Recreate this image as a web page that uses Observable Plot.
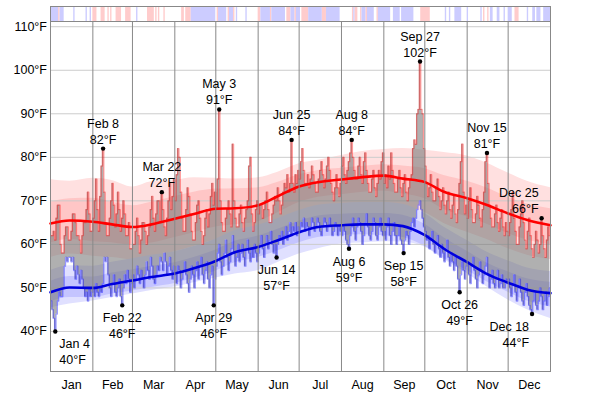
<!DOCTYPE html>
<html><head><meta charset="utf-8">
<script src="https://cdn.jsdelivr.net/npm/d3@7"></script>
<script src="https://cdn.jsdelivr.net/npm/@observablehq/plot@0.6"></script>
<style>
body{margin:0;background:#fff;font-family:"Liberation Sans",Arial,sans-serif;}
#chart svg{display:block}
</style></head><body><div id="chart"></div>
<script>
const months = ["Jan","Feb","Mar","Apr","May","Jun","Jul","Aug","Sep","Oct","Nov","Dec"];
const yTicks = [40,50,60,70,80,90,100,110];

// daily highs (°F), one array per month of 2012
const highJan = [62,62,63,61,66,69,69,60,58,58,62,64,64,61,61,63,67,67,65,62,62,61,58,62,65,65,68,72,67,63,63];
const highFeb = [66,70,75,68,63,71,78,82,72,65,62,62,66,70,74,69,64,67,72,68,63,66,70,67,62,62,65,59,59];
const highMar = [60,60,63,66,62,58,61,65,65,63,60,62,64,68,71,66,63,67,70,70,65,72,68,64,62,66,70,74,68,71,75];
const highApr = [70,76,82,80,72,66,63,63,68,73,71,67,63,61,61,65,69,70,66,63,60,62,66,68,64,67,71,74,69,72];
const highMay = [68,75,91,70,65,63,63,66,68,70,67,64,83,70,66,64,64,67,69,65,63,66,68,70,78,80,67,63,65,68,70];
const highJun = [67,69,69,66,68,70,72,68,65,65,67,69,71,70,73,70,67,69,72,74,73,76,72,74,84,74,72,76,74,77];
const highJul = [75,79,82,77,74,74,76,73,75,78,76,74,72,72,75,77,79,76,73,75,78,80,77,74,72,70,73,76,73,71,74];
const highAug = [78,80,76,74,77,79,81,84,80,77,75,75,78,80,76,74,79,81,77,74,72,72,75,77,73,71,74,77,75,79,81];
const highSep = [74,76,73,78,75,81,77,74,72,72,75,77,73,71,74,76,72,70,73,75,76,82,84,83,90,91,102,91,90,82];
const highOct = [78,74,71,73,76,72,70,70,73,75,71,68,70,73,69,67,70,72,68,66,69,71,67,65,68,74,79,83,72,67,69];
const highNov = [66,70,73,68,65,65,67,71,69,66,64,68,72,79,81,74,69,66,64,64,67,69,65,63,66,68,64,62,65,63];
const highDec = [62,65,68,72,66,63,60,60,64,67,70,65,61,59,63,66,62,59,57,60,63,61,58,60,66,62,59,57,61,64,62];

// daily lows (°F)
const lowJan = [47,45,43,40,44,47,49,48,48,50,55,57,56,57,57,56,57,54,52,55,53,51,54,52,50,48,49,47,50,48,49];
const lowFeb = [50,48,51,49,48,50,49,51,57,56,57,53,50,48,51,53,49,48,50,52,48,46,50,53,51,54,52,49,51];
const lowMar = [53,50,52,55,53,51,54,52,50,53,56,54,52,57,55,52,51,53,55,54,57,56,54,58,56,53,55,57,54,52,55];
const lowApr = [53,51,55,54,50,52,54,56,53,51,49,52,55,53,50,54,56,52,55,57,53,51,54,56,52,50,53,55,46,52];
const lowMay = [55,58,60,56,53,55,58,61,57,54,56,59,62,58,55,57,60,56,58,60,57,55,59,61,58,56,59,57,60,58,56];
const lowJun = [58,60,62,59,57,60,62,59,61,63,60,58,60,57,60,62,61,63,60,62,64,61,63,65,62,64,63,65,62,64];
const lowJul = [63,65,64,66,63,65,64,62,64,66,65,63,64,66,65,63,62,64,66,65,63,64,66,64,62,63,65,64,62,64,63];
const lowAug = [62,64,63,61,60,59,62,64,66,63,61,64,66,65,63,60,62,65,67,64,62,61,63,66,65,62,61,64,66,63,62];
const lowSep = [63,61,64,66,62,60,63,65,62,60,62,64,61,60,58,61,63,62,60,63,65,66,64,66,68,69,70,68,66,64];
const lowOct = [63,61,62,59,61,63,60,58,60,62,59,57,60,58,56,59,61,57,55,58,56,54,57,55,52,49,53,56,54,52,55];
const lowNov = [56,53,51,55,57,54,52,50,53,56,54,51,53,55,57,53,50,52,54,51,50,52,54,50,51,53,50,50,52,51];
const lowDec = [52,50,48,51,53,49,47,50,52,49,47,46,49,51,48,46,45,44,47,49,46,45,47,50,48,45,47,49,46,48,50];

// smooth averages and percentile bands, sampled at knot dates
const knotDates = ["2012-01-01","2012-01-15","2012-02-01","2012-02-15","2012-03-01","2012-03-15","2012-04-01","2012-04-15","2012-05-01","2012-05-15","2012-06-01","2012-06-15","2012-07-01","2012-07-15","2012-08-01","2012-08-15","2012-09-01","2012-09-15","2012-10-01","2012-10-15","2012-11-01","2012-11-15","2012-12-01","2012-12-15","2013-01-01"];
const avgHigh = [64.8,65.5,65.2,64.6,64.0,64.6,65.9,67.0,68.2,68.3,69.0,71.0,73.3,74.3,74.9,75.4,75.8,75.1,74.3,72.1,70.6,69.1,67.1,65.6,64.4];
const avgLow  = [49.0,50.1,50.0,50.9,51.7,52.5,53.3,54.5,56.2,58.2,59.4,60.9,62.8,64.0,64.4,64.6,64.6,64.2,62.1,59.0,55.9,53.3,51.2,49.6,48.8];
const hiP90 = [74.9,74.5,75.2,74.7,73.2,74.4,74.7,75.3,75.2,75.0,75.3,76.5,78.5,79.3,80.4,81.3,81.8,82.0,81.6,81.1,80.3,78.7,76.4,74.5,73.0];
const hiP75 = [69.7,70.5,70.6,69.7,68.9,69.7,71.0,72.0,72.7,72.8,73.0,74.2,76.0,77.0,77.5,77.9,78.3,78.0,77.4,75.8,74.5,73.0,70.8,69.3,68.2];
const hiP25 = [60.3,61.1,60.6,60.4,59.8,60.3,61.6,62.7,64.0,64.5,65.2,67.2,69.6,70.8,71.4,71.9,72.2,71.6,70.5,68.0,66.3,64.7,62.5,61.0,59.9];
const hiP10 = [57.0,57.8,57.3,57.0,56.5,57.0,58.3,59.5,61.0,61.5,62.3,64.3,66.5,67.8,68.3,68.8,69.0,68.5,67.3,64.8,62.8,61.2,59.0,57.5,56.5];
const loP90 = [54.0,55.1,55.0,55.9,56.7,57.5,58.3,59.5,61.2,63.2,64.4,65.9,67.8,69.0,69.4,69.6,69.6,69.2,67.1,64.0,60.9,58.3,56.2,54.6,53.8];
const loP75 = [51.5,52.6,52.5,53.4,54.2,55.0,55.8,57.0,58.7,60.7,61.9,63.4,65.3,66.5,66.9,67.1,67.1,66.7,64.6,61.5,58.4,55.8,53.7,52.1,51.3];
const loP25 = [46.8,47.8,47.8,48.6,49.3,50.1,51.0,52.2,53.9,55.8,57.0,58.5,60.4,61.6,62.0,62.2,62.0,61.6,59.6,56.8,54.0,51.5,49.0,47.0,45.6];
const loP10 = [45.4,46.3,47.0,47.8,48.6,49.4,50.2,51.2,52.3,53.2,54.0,55.8,57.8,59.0,60.1,60.3,60.6,60.5,59.4,56.5,53.3,50.3,47.2,45.0,43.0];

// top strip: day-of-year ranges [start, end) and kind
const stripeStart = [0,6,7,17,26,29,31,37,42,44,48,55,63,71,77,79,83,96,99,103,122,123,130,131,134,136,143,152,154,161,162,173,176,179,180,184,189,199,202,221,222,223,227,228,231,232,239,240,251,257,271,289,292,296,305,315,317,320,322,327,332,335,340,349,353,356,361];
const stripeEnd   = [6,7,10,18,27,30,34,40,43,45,52,59,64,76,78,80,84,98,103,121,123,129,131,134,135,137,144,154,161,162,172,176,179,180,183,189,199,202,212,222,223,225,228,231,232,237,240,249,256,266,278,290,293,301,306,316,318,321,324,329,333,338,343,350,355,359,366];
const stripeKind  = ["c","w","c","c","c","c","w","w","w","w","w","w","c","w","w","w","w","w","w","c","w","c","w","c","w","c","c","w","c","w","c","w","c","w","c","w","c","w","c","w","c","w","w","c","w","c","w","c","c","c","w","c","c","c","c","c","w","w","c","c","c","c","w","c","c","c","c"];

// annotated extremes
const hiLabelDates = ["2012-02-08","2012-03-22","2012-05-03","2012-06-25","2012-08-08","2012-09-27","2012-11-15","2012-12-25"];
const hiLabelTemps = [82,72,91,84,84,102,81,66];
const loLabelDates = ["2012-01-04","2012-02-22","2012-04-29","2012-06-14","2012-08-06","2012-09-15","2012-10-26","2012-12-18"];
const loLabelTemps = [40,46,46,57,59,58,49,44];

// ---- build tables ----
const highs = [highJan,highFeb,highMar,highApr,highMay,highJun,highJul,highAug,highSep,highOct,highNov,highDec];
const lows  = [lowJan,lowFeb,lowMar,lowApr,lowMay,lowJun,lowJul,lowAug,lowSep,lowOct,lowNov,lowDec];
const daily = [];
highs.forEach((arr, m) => arr.forEach((h, i) => {
  daily.push({date: new Date(Date.UTC(2012, m, i + 1, 12)), high: h, low: lows[m][i]});
}));
const knots = knotDates.map((d, i) => ({date: new Date(d), avgHigh: avgHigh[i], avgLow: avgLow[i],
  hiP90: hiP90[i], hiP75: hiP75[i], hiP25: hiP25[i], hiP10: hiP10[i],
  loP90: loP90[i], loP75: loP75[i], loP25: loP25[i], loP10: loP10[i]}));
const dayDate = d => new Date(Date.UTC(2012, 0, 1 + d));
const stripes = stripeStart.map((s, i) => ({x1: dayDate(s), x2: dayDate(stripeEnd[i]), kind: stripeKind[i]}));
const x0 = new Date(Date.UTC(2012, 0, 1)), x1 = new Date(Date.UTC(2013, 0, 1));
const monthStarts = d3.range(1, 12).map(m => new Date(Date.UTC(2012, m, 1)));
const monthMids = d3.range(12).map(m => new Date((Date.UTC(2012, m, 1) + Date.UTC(2012, m + 1, 1)) / 2));
const fmtDate = d => months[d.getUTCMonth()] + " " + d.getUTCDate();
const mkLabels = (dates, temps, kind) => dates.map((d, i) => {
  const date = new Date(d);
  const doy = (date - x0) / 864e5;
  const align = doy < 10 ? "start" : doy > 345 ? "end" : "middle";
  return {date: new Date(date.getTime() + 12 * 3600e3), t: temps[i], kind, align,
          text: fmtDate(date) + "\n" + temps[i] + "°F"};
});
const hiLabels = mkLabels(hiLabelDates, hiLabelTemps, "hi");
const loLabels = mkLabels(loLabelDates, loLabelTemps, "lo");
const allLabels = hiLabels.concat(loLabels);

const font = {fontFamily: "'Liberation Sans', Arial, sans-serif", fontSize: "12.5px", background: "white", color: "black", overflow: "visible"};

const strip = Plot.plot({
  width: 600, height: 21, marginTop: 6, marginBottom: 0, marginLeft: 50, marginRight: 50,
  style: font,
  x: {type: "utc", domain: [x0, x1], axis: null},
  marks: [
    Plot.rect(stripes, {x1: "x1", x2: "x2", fill: d => d.kind === "w" ? "#ffcccc" : "#ccccff"}),
    Plot.frame({stroke: "#888"})
  ]
});

const textMarks = [];
for (const align of ["start", "middle", "end"]) {
  const dx = align === "start" ? 4 : align === "end" ? -3 : 0;
  const h = hiLabels.filter(d => d.align === align);
  const l = loLabels.filter(d => d.align === align);
  if (h.length) textMarks.push(Plot.text(h, {x: "date", y: "t", text: "text", textAnchor: align, dx, dy: -5, lineAnchor: "bottom", lineHeight: 1.28, fill: "black"}));
  if (l.length) textMarks.push(Plot.text(l, {x: "date", y: "t", text: "text", textAnchor: align, dx, dy: 5.6, lineAnchor: "top", lineHeight: 1.28, fill: "black"}));
}

const main = Plot.plot({
  width: 600, height: 373, marginTop: 0, marginBottom: 23, marginLeft: 50, marginRight: 50,
  style: font,
  x: {type: "utc", domain: [x0, x1], axis: null},
  y: {domain: [30.8, 111.2], axis: null},
  marks: [
    Plot.areaY(knots, {x: "date", y1: "hiP10", y2: "hiP90", curve: "monotone-x", fill: "#ffe0e0"}),
    Plot.areaY(knots, {x: "date", y1: "loP10", y2: "loP90", curve: "monotone-x", fill: "#e0e0ff"}),
    Plot.areaY(knots, {x: "date", y1: "hiP25", y2: "hiP75", curve: "monotone-x", fill: "#ffc6c6"}),
    Plot.areaY(knots, {x: "date", y1: "loP25", y2: "loP75", curve: "monotone-x", fill: "#c4c4ff"}),
    Plot.ruleY(yTicks, {stroke: "#cccccc"}),
    Plot.areaY(daily, {x: "date", y1: "low", y2: "high", curve: "step", fill: "#777777", fillOpacity: 0.58}),
    Plot.lineY(daily, {x: "date", y: "high", curve: "step", stroke: "#ff0000", strokeOpacity: 0.4, strokeWidth: 1.3}),
    Plot.lineY(daily, {x: "date", y: "low", curve: "step", stroke: "#0000ff", strokeOpacity: 0.4, strokeWidth: 1.3}),
    Plot.line(knots, {x: "date", y: "avgHigh", curve: "monotone-x", stroke: "#ff0000", strokeWidth: 2.6}),
    Plot.line(knots, {x: "date", y: "avgLow", curve: "monotone-x", stroke: "#0000dd", strokeWidth: 2.6}),
    Plot.ruleX(monthStarts, {stroke: "#888888"}),
    Plot.frame({stroke: "#888888"}),
    Plot.text(yTicks, {y: d => d, text: d => d + "°F", frameAnchor: "left", textAnchor: "end", dx: -3.5, lineAnchor: "middle", fill: "black"}),
    Plot.text(monthMids, {x: d => d, text: d => months[d.getUTCMonth()], frameAnchor: "bottom", lineAnchor: "bottom", dy: 17, fill: "black"}),
    Plot.dot(allLabels, {x: "date", y: "t", r: 2.2, fill: "black"}),
    ...textMarks
  ]
});

const el = document.getElementById("chart");
el.append(strip, main);
</script>
</body></html>
